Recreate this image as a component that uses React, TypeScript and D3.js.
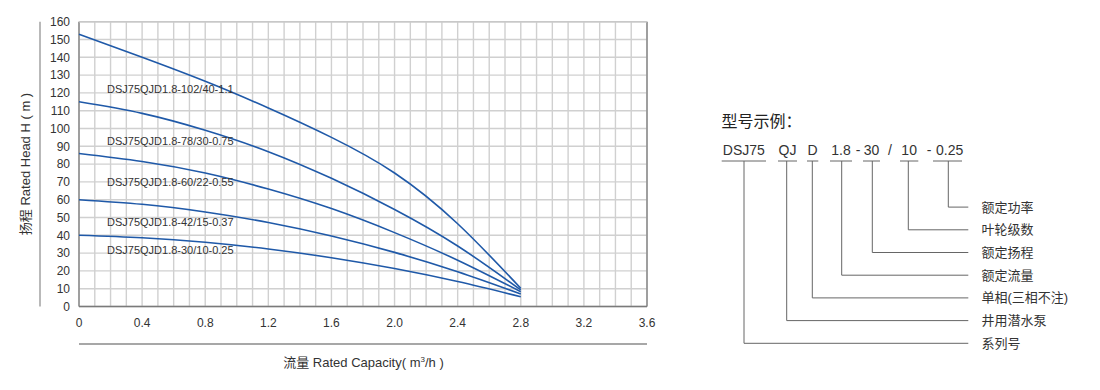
import React from "react";
import * as d3 from "d3";

// flow (m3/h) where head values were read
const flow = [0, 0.4, 0.8, 1.2, 1.6, 2.0, 2.4, 2.8];

// head (m) per model
const head102 = [153, 140, 126.5, 111.5, 95, 75, 46.5, 10.2];
const head78 = [115, 108.5, 99, 87, 72, 54.5, 34, 9.3];
const head60 = [86, 81.5, 75, 66, 55, 41.5, 26, 8.3];
const head42 = [60, 57.4, 53.1, 47.2, 39.6, 30.4, 19.5, 7];
const head30 = [40, 38.6, 36.1, 32.3, 27.4, 21.3, 14, 5.5];

const models = [
  "DSJ75QJD1.8-102/40-1.1",
  "DSJ75QJD1.8-78/30-0.75",
  "DSJ75QJD1.8-60/22-0.55",
  "DSJ75QJD1.8-42/15-0.37",
  "DSJ75QJD1.8-30/10-0.25",
];

const xTicks = ["0", "0.4", "0.8", "1.2", "1.6", "2.0", "2.4", "2.8", "3.2", "3.6"];
const yTicks = [0, 10, 20, 30, 40, 50, 60, 70, 80, 90, 100, 110, 120, 130, 140, 150, 160];

// model code example
const codeTitle = "型号示例：";
const codeParts = ["DSJ75", "QJ", "D", "1.8", "30", "10", "0.25"];
const codeMeaning = ["系列号", "井用潜水泵", "单相(三相不注)", "额定流量", "额定扬程", "叶轮级数", "额定功率"];

const FONT = "'Liberation Sans', Arial, 'Noto Sans CJK SC', sans-serif";

export default function App() {
  const left = 79, right = 647, top = 21.7, bottom = 306.5;

  const x = d3.scaleLinear().domain([0, 3.6]).range([left, right]);
  const y = d3.scaleLinear().domain([0, 160]).range([bottom, top]);

  const series = [head102, head78, head60, head42, head30];
  const line = d3
    .line<number>()
    .x((d, i) => x(flow[i]))
    .y(d => y(d))
    .curve(d3.curveNatural);

  const minorX = d3.range(0, 37).map(i => i / 10);
  const labelHead = [122.2, 93, 70, 47.5, 31.7];

  // layout of the code example (underline extents, measured)
  const partSpan = [
    [721.7, 766],
    [778, 797],
    [807, 818.3],
    [830, 852],
    [863, 880],
    [900, 918.3],
    [933, 962],
  ];
  const partStem = [744, 786.7, 812.3, 841.7, 872.3, 908.3, 948.3];
  const leaderY = d3.range(7).map(i => 343.3 - i * 22.7);
  const leaderEnd = 968.3;

  return (
    <svg
      width={1100}
      height={390}
      style={{ position: "absolute", left: 0, top: 0, background: "#fff" }}
      fontFamily={FONT}
    >
      {/* grid */}
      <g stroke="#d0d0d0" strokeWidth={1.4}>
        {minorX.map(v => (
          <line key={"vx" + v} x1={x(v)} x2={x(v)} y1={top} y2={bottom} />
        ))}
        {yTicks.map(v => (
          <line key={"hy" + v} x1={left} x2={right} y1={y(v)} y2={y(v)} />
        ))}
      </g>
      {/* frame */}
      <line x1={left} x2={left} y1={top} y2={bottom} stroke="#8a8a8a" strokeWidth={1.5} />
      <line x1={right} x2={right} y1={top} y2={bottom} stroke="#8a8a8a" strokeWidth={1.5} />
      <line x1={left} x2={right} y1={bottom} y2={bottom} stroke="#7a7a7a" strokeWidth={1.5} />
      <line x1={left} x2={right} y1={top} y2={top} stroke="#c8c8c8" strokeWidth={1.4} />

      {/* decorative rules */}
      <line x1={40} x2={40} y1={top} y2={bottom} stroke="#8a8a8a" strokeWidth={1.2} />
      <line x1={left} x2={right} y1={344} y2={344} stroke="#8a8a8a" strokeWidth={1.5} />

      {/* ticks */}
      <g fontSize={12} fill="#333">
        {yTicks.map(v => (
          <text key={"yt" + v} x={70} y={y(v)} dy="0.35em" textAnchor="end">
            {v}
          </text>
        ))}
        {xTicks.map(t => (
          <text key={"xt" + t} x={x(+t)} y={323} dy="0.35em" textAnchor="middle">
            {t}
          </text>
        ))}
      </g>

      {/* curves */}
      <g fill="none" stroke="#1f59a8" strokeWidth={1.6}>
        {series.map((s, i) => (
          <path key={models[i]} d={line(s) || ""} />
        ))}
      </g>
      <g fontSize={11} fill="#333">
        {models.map((m, i) => (
          <text key={"lb" + m} x={107} y={y(labelHead[i])} dy="0.35em">
            {m}
          </text>
        ))}
      </g>

      {/* axis titles */}
      <text x={363.5} y={367} fontSize={13} fill="#333" textAnchor="middle">
        流量 Rated Capacity( m<tspan fontSize={8} dy={-5}>3</tspan>
        <tspan dy={5}>/h )</tspan>
      </text>
      <text
        transform="translate(30,164) rotate(-90)"
        fontSize={13}
        fill="#333"
        textAnchor="middle"
      >
        扬程 Rated Head H ( m )
      </text>

      {/* model code example */}
      <text x={721.5} y={127} fontSize={16} fill="#222">
        {codeTitle}
      </text>
      <g fontSize={14} fill="#333" textAnchor="middle">
        {codeParts.map((p, i) => (
          <text
            key={"cp" + i}
            x={i === 6 ? 936 : (partSpan[i][0] + partSpan[i][1]) / 2}
            y={155}
            textAnchor={i === 6 ? "start" : "middle"}
          >
            {p}
          </text>
        ))}
        <text x={858} y={155}>-</text>
        <text x={890} y={155}>/</text>
        <text x={929} y={155}>-</text>
      </g>
      <g stroke="#666" strokeWidth={1} fill="none">
        {codeParts.map((p, i) => (
          <g key={"ln" + i}>
            <line x1={partSpan[i][0]} x2={partSpan[i][1]} y1={161} y2={161} />
            <path d={`M${partStem[i]},161V${leaderY[i]}H${leaderEnd}`} />
          </g>
        ))}
      </g>
      <g fontSize={13} fill="#333">
        {codeMeaning.map((m, i) => (
          <text key={"cm" + i} x={981.5} y={leaderY[i]} dy="0.35em">
            {m}
          </text>
        ))}
      </g>
    </svg>
  );
}
